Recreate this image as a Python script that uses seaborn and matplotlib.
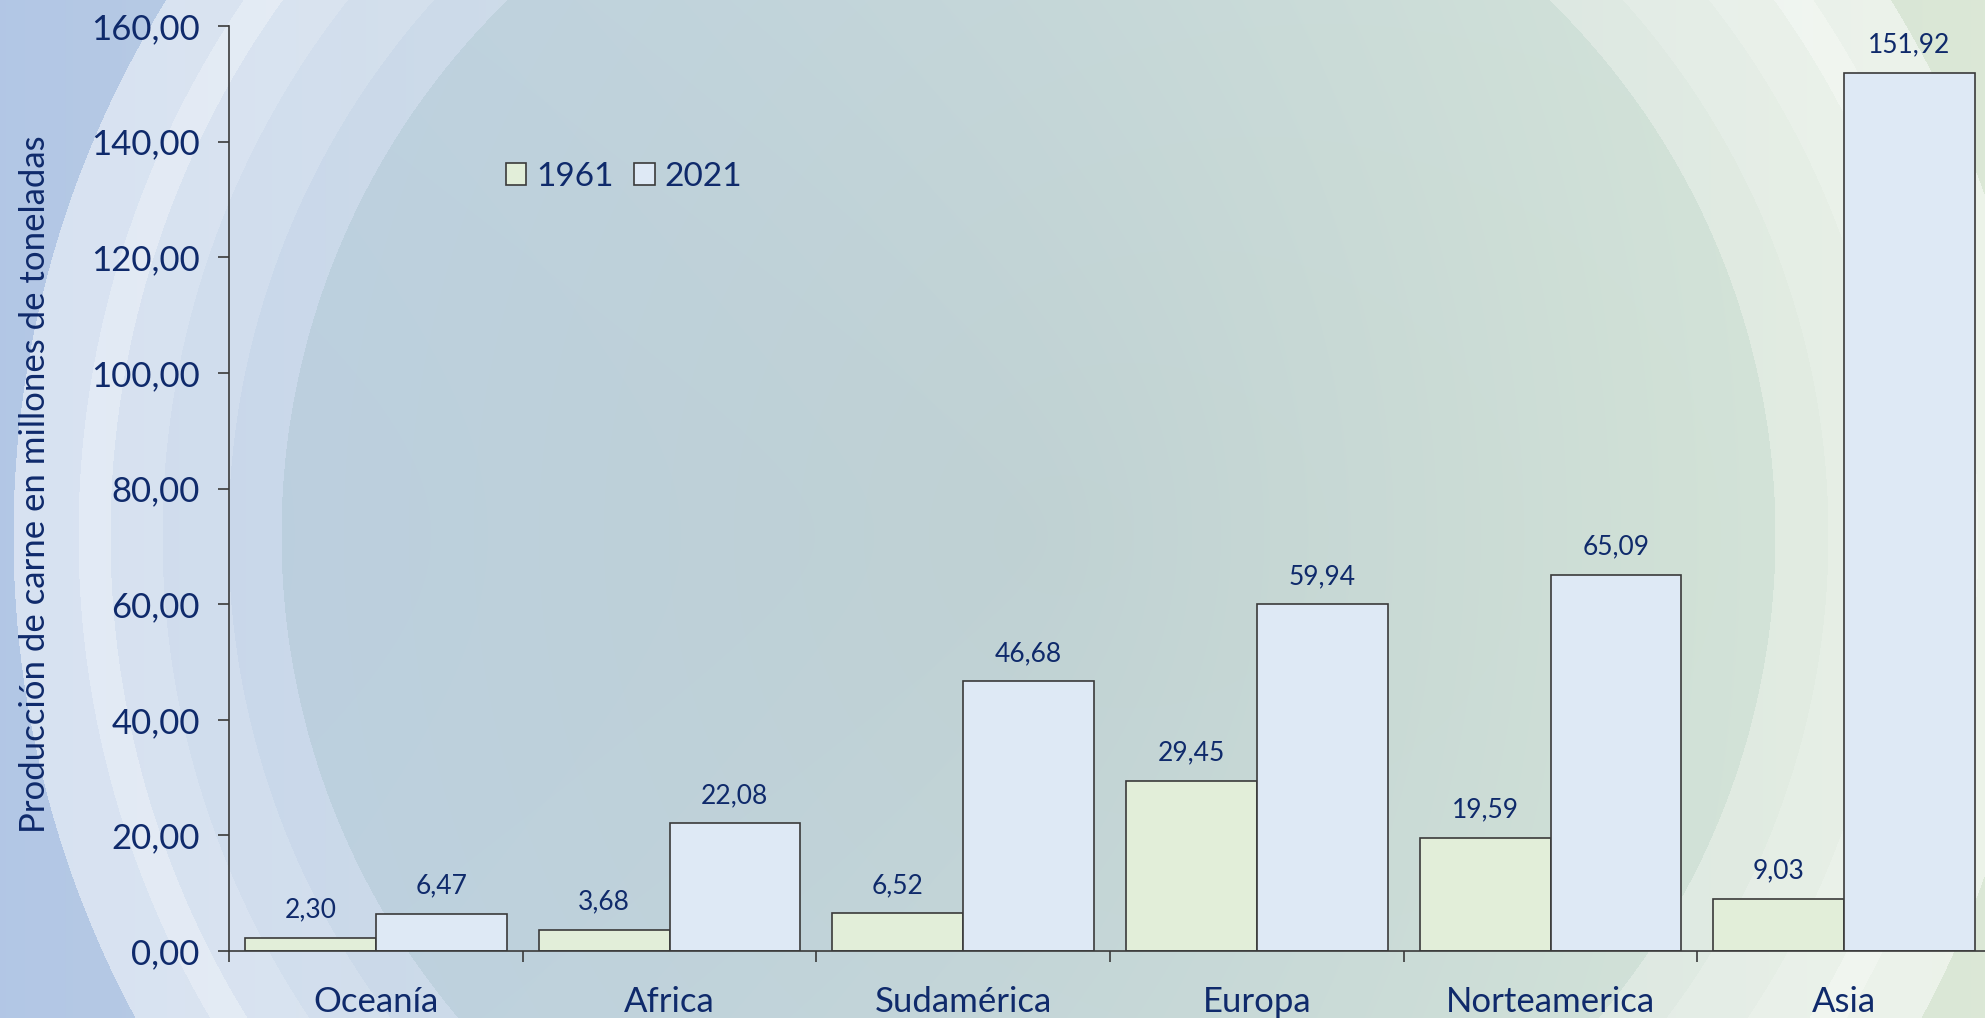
import numpy as np
import pandas as pd
import matplotlib
matplotlib.use("Agg")
import matplotlib.pyplot as plt
import seaborn as sns
from matplotlib.ticker import FuncFormatter

# data
regions = ["Oceanía", "Africa", "Sudamérica", "Europa", "Norteamerica", "Asia"]
prod_1961 = [2.30, 3.68, 6.52, 29.45, 19.59, 9.03]
prod_2021 = [6.47, 22.08, 46.68, 59.94, 65.09, 151.92]
years = ["1961", "2021"]

df = pd.DataFrame({
    "region": regions * 2,
    "year": [years[0]] * 6 + [years[1]] * 6,
    "value": prod_1961 + prod_2021,
})

sns.set_theme(style="white")
plt.rcParams["font.family"] = ["Lato", "DejaVu Sans"]
navy = "#0f2a6b"
colors = {"1961": "#e2eed9", "2021": "#dee9f5"}

W, H = 1985, 1018
fig = plt.figure(figsize=(W / 100, H / 100), dpi=100)

# background: blue->green gradient with concentric light rings
yy, xx = np.mgrid[0:H, 0:W]
t = (xx / W)[..., None]
outer = (1 - t) * np.array([0.70, 0.78, 0.90]) + t * np.array([0.86, 0.91, 0.84])
inner = (1 - t) * np.array([0.72, 0.80, 0.88]) + t * np.array([0.84, 0.90, 0.84])
r = np.hypot(xx - 1028, yy - 535)
img = np.where((r < 747)[..., None], inner, outer)
white = np.zeros_like(r)
white[(r >= 747) & (r < 800)] = 0.25
white[(r >= 800) & (r < 866)] = 0.36
white[(r >= 866) & (r < 918)] = 0.46
white[(r >= 918) & (r < 950)] = 0.62
white[(r >= 950) & (r < 1015)] = 0.48
img = img * (1 - white[..., None]) + white[..., None]
# subtle darkening toward the centre of the disk
shade = np.clip(1 - r / 747, 0, 1) * 0.03
img = np.clip(img - shade[..., None], 0, 1)
bg = fig.add_axes([0, 0, 1, 1])
bg.imshow(img, aspect="auto", interpolation="bilinear")
bg.axis("off")

ax = fig.add_axes([229 / W, 67 / H, 1762 / W, 925 / H])
ax.set_facecolor("none")
sns.barplot(data=df, x="region", y="value", hue="year", palette=colors,
            width=0.89, gap=0, edgecolor="#3a3a3a", linewidth=1.2,
            saturation=1, ax=ax, legend=False)

for cont in ax.containers:
    ax.bar_label(cont, labels=[f"{v:.2f}".replace(".", ",") for v in cont.datavalues],
                 padding=11, fontsize=19, color=navy)

ax.set_ylim(0, 160)
ax.set_xlim(-0.5, 5.5)
ax.set_yticks(np.arange(0, 161, 20))
ax.yaxis.set_major_formatter(FuncFormatter(lambda v, p: f"{v:.2f}".replace(".", ",")))
ax.tick_params(axis="y", left=True, length=8, width=1.2, color="#3a3a3a",
               labelsize=25, labelcolor=navy, pad=13)
ax.set_xticks(np.arange(-0.5, 6, 1), minor=True)
ax.tick_params(axis="x", which="major", length=0, labelsize=25, labelcolor=navy, pad=25)
ax.tick_params(axis="x", which="minor", bottom=True, length=8, width=1.2, color="#3a3a3a")
ax.set_xlabel("")
ax.set_ylabel("Producción de carne en millones de toneladas", fontsize=25, color=navy)
ax.yaxis.set_label_coords(-0.101, 0.505)
for s in ["top", "right"]:
    ax.spines[s].set_visible(False)
for s in ["left", "bottom"]:
    ax.spines[s].set_color("#3a3a3a")
    ax.spines[s].set_linewidth(1.2)
ax.grid(False)

handles = [plt.Rectangle((0, 0), 1, 1, facecolor=colors[y], edgecolor="#3a3a3a", linewidth=1.2)
           for y in years]
ax.legend(handles, years, loc="center left", bbox_to_anchor=(0.14, 0.837),
          frameon=False, ncol=2, fontsize=24, labelcolor=navy,
          handlelength=0.62, handleheight=0.62, handletextpad=0.3, columnspacing=0.6)

fig.savefig("out.png", dpi=100)
